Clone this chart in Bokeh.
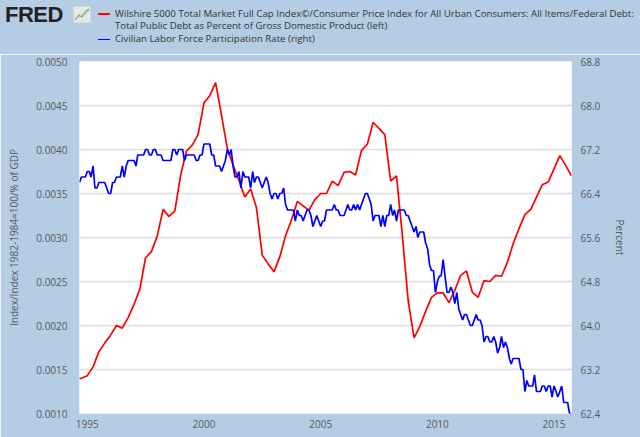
from datetime import datetime
import pandas as pd
from bokeh.plotting import figure
from bokeh.layouts import column
from bokeh.models import (ColumnDataSource, Range1d, LinearAxis, FixedTicker,
                          NumeralTickFormatter, DatetimeTickFormatter, Div)
from bokeh.embed import file_html
from bokeh.resources import INLINE

# Wilshire 5000 / CPI / Federal debt % of GDP, quarterly from 1994-07
wilshire_ratio = [
    0.00140, 0.00140, 0.00143, 0.00153, 0.00170, 0.00180, 0.00189, 0.00200,
    0.00197, 0.00209, 0.00224, 0.00241, 0.00277, 0.00284, 0.00302, 0.00332,
    0.00324, 0.00330, 0.00371, 0.00398, 0.00405, 0.00417, 0.00453, 0.00461,
    0.00476, 0.00439, 0.00401, 0.00382, 0.00365, 0.00346, 0.00355, 0.00334,
    0.00280, 0.00270, 0.00261, 0.00278, 0.00302, 0.00320, 0.00341, 0.00336,
    0.00331, 0.00343, 0.00350, 0.00350, 0.00364, 0.00359, 0.00374, 0.00375,
    0.00371, 0.00399, 0.00406, 0.00431, 0.00424, 0.00417, 0.00364, 0.00370,
    0.00303, 0.00228, 0.00186, 0.00199, 0.00216, 0.00232, 0.00237, 0.00237,
    0.00226, 0.00240, 0.00257, 0.00262, 0.00238, 0.00232, 0.00251, 0.00250,
    0.00257, 0.00256, 0.00272, 0.00293, 0.00310, 0.00326, 0.00332, 0.00346,
    0.00360, 0.00363, 0.00378, 0.00393, 0.00382, 0.00370,
]

# Civilian labor force participation rate, monthly from 1994-09
lfpr_1994_1999 = [
    66.6, 66.7, 66.7, 66.7,
    66.8, 66.8, 66.7, 66.9, 66.5, 66.5, 66.6, 66.6, 66.6, 66.6, 66.5, 66.4,
    66.4, 66.6, 66.6, 66.7, 66.7, 66.7, 66.9, 66.7, 66.9, 67.0, 67.0, 67.0,
    67.0, 66.9, 67.1, 67.1, 67.1, 67.1, 67.2, 67.2, 67.1, 67.1, 67.2, 67.2,
    67.1, 67.1, 67.1, 67.0, 67.0, 67.0, 67.0, 67.0, 67.2, 67.2, 67.1, 67.2,
    67.2, 67.2, 67.0, 67.1, 67.1, 67.1, 67.1, 67.1, 67.0, 67.0, 67.1, 67.1,
]
lfpr_2000_2004 = [
    67.3, 67.3, 67.3, 67.3, 67.1, 67.1, 66.9, 66.9, 66.9, 66.8, 66.9, 67.0,
    67.2, 67.1, 67.2, 66.9, 66.7, 66.7, 66.8, 66.5, 66.8, 66.7, 66.7, 66.7,
    66.5, 66.8, 66.6, 66.7, 66.7, 66.6, 66.5, 66.6, 66.7, 66.6, 66.4, 66.3,
    66.4, 66.4, 66.3, 66.4, 66.4, 66.5, 66.2, 66.1, 66.1, 66.1, 66.1, 65.9,
    66.1, 66.0, 66.0, 65.9, 66.0, 66.1, 66.1, 66.0, 65.8, 65.9, 66.0, 65.9,
]
lfpr_2005_2009 = [
    65.8, 65.9, 65.9, 66.1, 66.1, 66.1, 66.1, 66.2, 66.1, 66.1, 66.0, 66.0,
    66.0, 66.1, 66.2, 66.1, 66.1, 66.2, 66.1, 66.2, 66.1, 66.2, 66.3, 66.4,
    66.4, 66.3, 66.2, 65.9, 66.0, 66.0, 66.0, 65.8, 66.0, 65.8, 66.0, 66.0,
    66.2, 66.0, 66.1, 65.9, 66.1, 66.1, 66.1, 66.1, 66.0, 66.0, 65.9, 65.8,
    65.7, 65.8, 65.6, 65.7, 65.7, 65.7, 65.5, 65.4, 65.1, 65.0, 65.0, 64.6,
]
lfpr_2010_2015 = [
    64.8, 64.9, 64.9, 65.2, 64.9, 64.6, 64.6, 64.7, 64.6, 64.4, 64.6, 64.3,
    64.2, 64.1, 64.2, 64.2, 64.1, 64.0, 64.0, 64.1, 64.2, 64.1, 64.1, 64.0,
    63.7, 63.8, 63.8, 63.7, 63.7, 63.8, 63.7, 63.5, 63.6, 63.8, 63.6, 63.7,
    63.6, 63.4, 63.3, 63.4, 63.4, 63.4, 63.4, 63.2, 63.2, 62.8, 63.0, 62.9,
    62.9, 62.9, 63.1, 62.8, 62.8, 62.8, 62.9, 62.9, 62.8, 62.9, 62.9, 62.7,
    62.9, 62.8, 62.7, 62.8, 62.9, 62.6, 62.6, 62.6, 62.4, 62.4,
]

left_ticks = [0.0010, 0.0015, 0.0020, 0.0025, 0.0030, 0.0035, 0.0040, 0.0045, 0.0050]
right_ticks = [62.4, 63.2, 64.0, 64.8, 65.6, 66.4, 67.2, 68.0, 68.8]
year_ticks = [1995, 2000, 2005, 2010, 2015]

legend_red = ["Wilshire 5000 Total Market Full Cap Index\u00a9/Consumer Price Index for All Urban Consumers: All Items/Federal Debt:",
              "Total Public Debt as Percent of Gross Domestic Product (left)"]
legend_blue = "Civilian Labor Force Participation Rate (right)"

BG = "#b4cde5"
FONT = "Open Sans"
TXT = "#595959"
W = 640

lfpr = lfpr_1994_1999 + lfpr_2000_2004 + lfpr_2005_2009 + lfpr_2010_2015
red_src = ColumnDataSource(dict(date=pd.date_range("1994-07-01", periods=len(wilshire_ratio), freq="QS"),
                                value=wilshire_ratio))
blue_src = ColumnDataSource(dict(date=pd.date_range("1994-09-01", periods=len(lfpr), freq="MS"),
                                 value=lfpr))

# --- header strip: FRED logo + legend
def legend_line(top, text):
    return (f'<div style="position:absolute;left:115px;top:{top}px;white-space:nowrap;'
            f'font:9.7px \'{FONT}\';line-height:12px;color:#333">{text}</div>')

def dash(top, color):
    return (f'<div style="position:absolute;left:98px;top:{top}px;width:12px;height:1.6px;'
            f'background:{color}"></div>')

icon = ('<svg style="position:absolute;left:73px;top:6px" width="18" height="17">'
        '<rect x="0.5" y="0.5" width="17" height="16" fill="#e4eae8" stroke="#cfd8da"/>'
        '<polyline points="2,14 6,9 9,11 13,5 16,3" fill="none" stroke="#7fae4f" stroke-width="1.2"/>'
        '<polyline points="2,12 6,11 9,8 13,8 16,4" fill="none" stroke="#9fb8c8" stroke-width="1"/>'
        '</svg>')

header_html = (
    f'<div style="position:relative;width:{W}px;height:54px;background:{BG};overflow:hidden">'
    '<div style="position:absolute;left:5px;top:2px;font:bold 22px \'Liberation Sans\';'
    'color:#222;letter-spacing:-0.5px">FRED</div>'
    + icon
    + dash(13.2, "#ff0000") + legend_line(8, legend_red[0]) + legend_line(20, legend_red[1])
    + dash(38.5, "#0000ff") + legend_line(33.3, legend_blue)
    + '</div>'
)
head = Div(text=header_html, width=W, height=54, margin=0,
           styles={"background-color": BG, "padding": "0", "margin": "0"})

# --- main chart
p = figure(width=W, height=383, x_axis_type="datetime", output_backend="svg",
           toolbar_location=None,
           x_range=Range1d(datetime(1994, 9, 1), datetime(2015, 10, 1)),
           y_range=Range1d(0.0010, 0.0050),
           background_fill_color="white", border_fill_color=BG, outline_line_color=None,
           min_border_left=79, min_border_right=69, min_border_top=7, min_border_bottom=24)
p.extra_y_ranges = {"right": Range1d(62.4, 68.8)}

p.line("date", "value", source=red_src, color="#ff0000", line_width=1.7)
p.line("date", "value", source=blue_src, color="#0000ff", line_width=1.7, y_range_name="right")

p.xgrid.grid_line_color = None
p.ygrid.grid_line_color = "#dddddd"
p.ygrid.grid_line_width = 1.6

right = LinearAxis(y_range_name="right", axis_label="Percent")
p.add_layout(right, "right")

p.yaxis[0].ticker = FixedTicker(ticks=left_ticks)
p.yaxis[0].formatter = NumeralTickFormatter(format="0.0000")
p.yaxis[0].axis_label = "Index/Index 1982-1984=100/% of GDP"
right.ticker = FixedTicker(ticks=right_ticks)
right.formatter = NumeralTickFormatter(format="0.0")

p.xaxis.ticker = FixedTicker(ticks=[pd.Timestamp(f"{y}-01-01").value // 10**6 for y in year_ticks])
p.xaxis.formatter = DatetimeTickFormatter(years="%Y", months="%Y", days="%Y")

for ax in p.axis:
    ax.axis_line_color = None
    ax.major_tick_line_color = None
    ax.minor_tick_line_color = None
    ax.major_tick_out = 0
    ax.major_tick_in = 0
    ax.major_label_text_font = FONT
    ax.major_label_text_font_size = "10px"
    ax.major_label_text_color = TXT
    ax.axis_label_text_font = FONT
    ax.axis_label_text_font_size = "10px"
    ax.axis_label_text_font_style = "normal"
    ax.axis_label_text_color = TXT
p.xaxis.major_label_standoff = 6
p.yaxis[0].major_label_standoff = 12
p.yaxis[0].axis_label_standoff = 12
right.major_label_standoff = 9
right.axis_label_standoff = 10

open("out.html", "w").write(file_html(column(head, p, spacing=0), INLINE))
